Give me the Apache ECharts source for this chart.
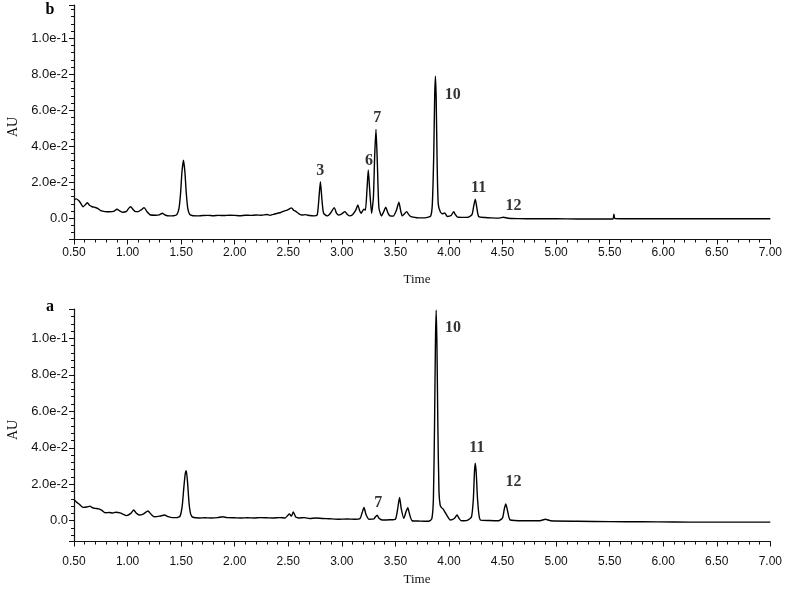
<!DOCTYPE html>
<html>
<head>
<meta charset="utf-8">
<script src="https://cdn.jsdelivr.net/npm/echarts@6/dist/echarts.min.js"></script>
<style>html,body{margin:0;padding:0;background:#fff}#c{width:785px;height:595px}</style>
</head>
<body>
<div id="c"></div>
<script>
// Chromatogram b (top panel)
var timeB = [0.50,0.52,0.55,0.585,0.61,0.625,0.645,0.67,0.70,0.72,0.75,0.79,0.83,0.87,0.90,0.93,0.955,0.99,1.01,1.03,1.05,1.075,1.10,1.13,1.155,1.18,1.215,1.26,1.295,1.325,1.35,1.39,1.43,1.46,1.48,1.495,1.508,1.522,1.535,1.548,1.562,1.58,1.61,1.65,1.70,1.75,1.80,1.85,1.90,1.95,2.00,2.05,2.10,2.15,2.20,2.25,2.30,2.33,2.36,2.40,2.43,2.46,2.49,2.51,2.53,2.55,2.57,2.60,2.63,2.66,2.70,2.74,2.77,2.785,2.80,2.815,2.83,2.865,2.89,2.93,2.95,2.97,3.00,3.03,3.05,3.07,3.10,3.13,3.15,3.165,3.18,3.205,3.22,3.235,3.247,3.26,3.278,3.295,3.307,3.319,3.332,3.346,3.37,3.39,3.41,3.43,3.45,3.48,3.51,3.533,3.55,3.565,3.585,3.605,3.625,3.645,3.70,3.75,3.80,3.83,3.845,3.858,3.867,3.874,3.881,3.89,3.90,3.92,3.94,3.96,3.985,4.02,4.045,4.06,4.08,4.12,4.18,4.215,4.232,4.246,4.26,4.278,4.34,4.40,4.47,4.51,4.55,4.65,4.80,5.00,5.20,5.40,5.53,5.54,5.55,5.70,6.00,6.30,6.60,7.00];
var auB = [0.0105,0.0108,0.0095,0.0064,0.0078,0.0087,0.0072,0.0064,0.0060,0.0055,0.0042,0.0037,0.0036,0.0038,0.0050,0.0040,0.0033,0.0038,0.0055,0.0064,0.0050,0.0037,0.0037,0.0048,0.0059,0.0038,0.0018,0.0017,0.0019,0.0028,0.0018,0.0013,0.0014,0.0020,0.0055,0.014,0.026,0.0322,0.026,0.014,0.0055,0.0022,0.0014,0.0013,0.0015,0.0016,0.0014,0.0016,0.0015,0.0017,0.0016,0.0014,0.0017,0.0016,0.0018,0.0017,0.0021,0.0016,0.0022,0.0028,0.0032,0.0040,0.0045,0.0052,0.0058,0.0045,0.0038,0.0025,0.0018,0.0020,0.0015,0.0013,0.0018,0.010,0.0203,0.010,0.0028,0.0013,0.0025,0.0059,0.0028,0.0018,0.0025,0.0037,0.0022,0.0013,0.0020,0.0045,0.0074,0.0045,0.0028,0.0050,0.0045,0.016,0.0268,0.016,0.0028,0.012,0.035,0.0494,0.030,0.006,0.0013,0.0035,0.0061,0.0030,0.0013,0.0012,0.0045,0.0089,0.0040,0.0013,0.0025,0.0037,0.0020,0.0009,0.0003,0.0002,0.0005,0.0012,0.008,0.035,0.068,0.079,0.066,0.030,0.008,0.0035,0.0025,0.0030,0.0010,0.0015,0.0037,0.0020,0.0006,0.0005,0.0006,0.0020,0.0070,0.0106,0.0060,0.0010,0.0004,0.0002,0.0001,0.0006,0.0000,-0.0002,-0.0003,-0.0003,-0.0004,-0.0004,-0.0004,0.0022,-0.0002,-0.0003,-0.0003,-0.0003,-0.0003,-0.0003];

// Chromatogram a (bottom panel)
var timeA = [0.50,0.52,0.55,0.585,0.62,0.65,0.67,0.695,0.73,0.76,0.79,0.83,0.86,0.89,0.93,0.96,0.99,1.03,1.058,1.08,1.11,1.15,1.19,1.22,1.25,1.30,1.345,1.38,1.42,1.46,1.49,1.51,1.525,1.538,1.548,1.56,1.575,1.59,1.61,1.67,1.72,1.78,1.84,1.886,1.93,2.00,2.06,2.12,2.18,2.24,2.30,2.36,2.42,2.47,2.51,2.53,2.547,2.57,2.60,2.65,2.70,2.76,2.82,2.88,2.97,3.05,3.12,3.17,3.19,3.207,3.225,3.253,3.30,3.315,3.33,3.345,3.377,3.45,3.50,3.52,3.539,3.555,3.579,3.60,3.616,3.635,3.656,3.73,3.81,3.84,3.855,3.866,3.874,3.881,3.888,3.897,3.907,3.918,3.93,3.945,3.96,3.985,4.013,4.05,4.075,4.095,4.116,4.17,4.21,4.228,4.238,4.246,4.255,4.268,4.293,4.38,4.463,4.50,4.517,4.531,4.545,4.572,4.70,4.85,4.90,4.95,5.20,5.50,5.80,6.10,6.40,6.70,7.00];
var auA = [0.0117,0.0104,0.0090,0.0073,0.0075,0.0080,0.0072,0.0068,0.0065,0.0057,0.0044,0.0045,0.0042,0.0046,0.0043,0.0035,0.0028,0.0040,0.0059,0.0042,0.0031,0.0038,0.0053,0.0035,0.0022,0.0025,0.0031,0.0022,0.0017,0.0017,0.0025,0.0080,0.018,0.0255,0.0274,0.021,0.009,0.0035,0.0019,0.0015,0.0016,0.0015,0.0017,0.0022,0.0017,0.0016,0.0015,0.0016,0.0015,0.0017,0.0016,0.0015,0.0017,0.0015,0.0037,0.0025,0.0048,0.0020,0.0015,0.0017,0.0012,0.0015,0.0012,0.0011,0.0008,0.0009,0.0008,0.0012,0.0045,0.0073,0.0035,0.0008,0.0010,0.0022,0.0030,0.0015,0.0004,0.0005,0.0008,0.0060,0.0128,0.0065,0.0013,0.0050,0.0071,0.0030,0.0000,-0.0002,-0.0003,0.0010,0.012,0.055,0.098,0.1155,0.096,0.050,0.016,0.0085,0.0072,0.0065,0.0050,0.0025,0.0004,0.0012,0.0031,0.0012,0.0000,0.0002,0.0020,0.012,0.0265,0.0315,0.026,0.011,0.0004,0.0001,0.0000,0.0015,0.0065,0.0092,0.0060,0.0004,0.0000,0.0000,0.0008,0.0000,-0.0003,-0.0005,-0.0006,-0.0007,-0.0008,-0.0008,-0.0008];

// Peak labels (text anchored at data coordinates)
var peakNamesB = ['3','6','7','10','11','12'];
var peakTimeB  = [2.798,3.253,3.331,4.035,4.277,4.602];
var peakAUB    = [0.0264,0.0318,0.0557,0.0685,0.0168,0.0070];
var peakNamesA = ['7','10','11','12'];
var peakTimeA  = [3.340,4.038,4.261,4.602];
var peakAUA    = [0.0099,0.106,0.040,0.0214];

var xTicks = {min:0.5, max:7.0, interval:0.5};

function pairs(t, v){ return t.map(function(x,i){ return [x, v[i]]; }); }
function labels(n, t, v){ return n.map(function(s,i){ return {name:s, value:[t[i], v[i]]}; }); }

var axisColor = '#111';
function tickFont(sz){ return {fontFamily:'Liberation Sans, Arial, sans-serif', fontSize:sz, color:'#111'}; }

function xAxis(g, margin){
  return {gridIndex:g, type:'value', min:xTicks.min, max:xTicks.max, interval:xTicks.interval,
    axisLine:{show:true, onZero:false, lineStyle:{color:axisColor, width:1.2}},
    axisTick:{show:true, inside:false, length:5, lineStyle:{color:axisColor}},
    minorTick:{show:true, splitNumber:5, length:3, lineStyle:{color:axisColor}},
    splitLine:{show:false},
    axisLabel:Object.assign({margin:margin, formatter:function(v){return v.toFixed(2);}}, tickFont(12))};
}
function yAxis(g, mn, mx){
  return {gridIndex:g, type:'value', min:mn, max:mx, splitNumber:6,
    axisLine:{show:true, onZero:false, lineStyle:{color:axisColor, width:1.2}},
    axisTick:{show:true, inside:false, length:5, lineStyle:{color:axisColor}},
    minorTick:{show:true, splitNumber:5, length:3, lineStyle:{color:axisColor}},
    splitLine:{show:false},
    axisLabel:Object.assign({margin:6, showMinLabel:false, showMaxLabel:false,
      formatter:function(v){ if (Math.abs(v) < 1e-9) return '0.0'; return v.toExponential(1); }}, tickFont(13))};
}
var peakLabelStyle = {show:true, position:'inside', formatter:'{b}', fontFamily:'Liberation Serif, Times New Roman, serif', fontWeight:'bold', fontSize:16, color:'#000', textBorderWidth:0, textShadowBlur:0};

var chart = echarts.init(document.getElementById('c'), null, {renderer:'canvas'});
chart.setOption({
  animation:false,
  backgroundColor:'#fff',
  grid:[
    {left:74, right:12, top:5, height:234.5},
    {left:74, right:12, top:309, height:232.5}
  ],
  xAxis:[xAxis(0, 7), xAxis(1, 14)],
  yAxis:[yAxis(0, -0.0118, 0.1185), yAxis(1, -0.0114, 0.1161)],
  series:[
    {type:'line', xAxisIndex:0, yAxisIndex:0, data:pairs(timeB, auB), showSymbol:false, smooth:0.2, lineStyle:{color:'#000', width:1.4, join:'round'}},
    {type:'line', xAxisIndex:1, yAxisIndex:1, data:pairs(timeA, auA), showSymbol:false, smooth:0.2, lineStyle:{color:'#000', width:1.4, join:'round'}},
    {type:'scatter', xAxisIndex:0, yAxisIndex:0, symbolSize:0, data:labels(peakNamesB, peakTimeB, peakAUB), label:peakLabelStyle},
    {type:'scatter', xAxisIndex:1, yAxisIndex:1, symbolSize:0, data:labels(peakNamesA, peakTimeA, peakAUA), label:peakLabelStyle}
  ],
  graphic:[
    {type:'text', x:50, y:10, style:{text:'b', fontFamily:'Liberation Serif, serif', fontWeight:'bold', fontSize:16, fill:'#000', align:'center', verticalAlign:'middle'}},
    {type:'text', x:50, y:307, style:{text:'a', fontFamily:'Liberation Serif, serif', fontWeight:'bold', fontSize:16, fill:'#000', align:'center', verticalAlign:'middle'}},
    {type:'text', x:417, y:280, style:{text:'Time', fontFamily:'Liberation Serif, serif', fontSize:13, fill:'#111', align:'center', verticalAlign:'middle'}},
    {type:'text', x:417, y:580, style:{text:'Time', fontFamily:'Liberation Serif, serif', fontSize:13, fill:'#111', align:'center', verticalAlign:'middle'}},
    {type:'text', x:13, y:127, rotation:Math.PI/2, style:{text:'AU', fontFamily:'Liberation Serif, serif', fontSize:14, fill:'#111', align:'center', verticalAlign:'middle'}},
    {type:'text', x:13, y:430, rotation:Math.PI/2, style:{text:'AU', fontFamily:'Liberation Serif, serif', fontSize:14, fill:'#111', align:'center', verticalAlign:'middle'}}
  ]
});
</script>
</body>
</html>
